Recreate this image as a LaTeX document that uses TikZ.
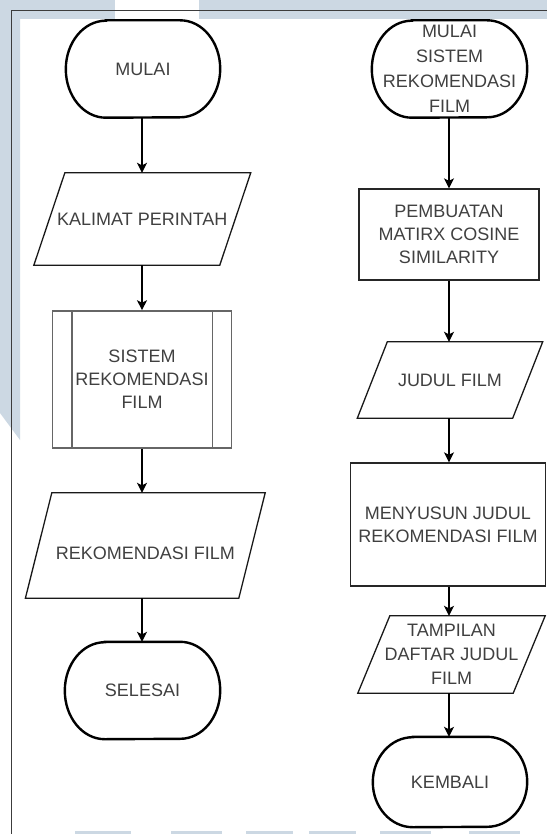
\documentclass[tikz,border=0pt]{standalone}
\usepackage{fontspec}
\setmainfont{Liberation Sans}
\usetikzlibrary{arrows.meta}
\definecolor{wm}{RGB}{204,216,227}
\definecolor{txt}{RGB}{64,64,64}
\definecolor{frm}{RGB}{60,60,60}
\newcommand\parlg[2]{\draw[pline] ([xshift=#2]#1.north west) -- ([xshift=#2]#1.north east) -- ([xshift=-#2]#1.south east) -- ([xshift=-#2]#1.south west) -- cycle;}
\newcommand\termdraw[3]{\draw[tline] ([xshift=#2]#1.north west) -- ([xshift=-#2]#1.north east) arc[start angle=90,end angle=-90,x radius=#2,y radius=#3] -- ([xshift=#2]#1.south west) arc[start angle=270,end angle=90,x radius=#2,y radius=#3] -- cycle;}
\begin{document}
\begin{tikzpicture}[x=1pt,y=-1pt,
  base/.style={inner sep=0pt, align=center, text=txt, font=\fontsize{18}{23}\selectfont},
  term/.style={base},
  tline/.style={draw=black, line width=2.4pt},
  proc/.style={base, draw=black!85, line width=1.3pt},
  sub/.style={base, draw=black!60, line width=1.6pt},
  sline/.style={draw=black!60, line width=1.6pt},
  iobox/.style={base},
  pline/.style={draw=black!90, line width=1.3pt},
  arr/.style={line width=1.4pt, -{Stealth[length=10pt,width=10pt,inset=2.5pt]}},
]
\useasboundingbox (0,0) rectangle (547,834);
\fill[white] (0,0) rectangle (547,834);
% watermark
\fill[wm] (0,0) rectangle (115,19);
\fill[wm] (199,0) rectangle (547,19);
\fill[wm] (0,0) -- (20,0) -- (20,440) -- (0,413) -- cycle;
\foreach \a/\b in {75/131,171/222,246/293,309/356,380/431,469/520}
  \fill[wm] (\a,831) rectangle (\b,834);
% frame
\draw[frm, line width=1.2pt] (11.5,834) -- (11.5,10.5) -- (547,10.5);

% left column
\node[term, minimum width=154pt, minimum height=97pt] (mulai) at (143,69) {MULAI};
\node[iobox, minimum width=185.5pt, minimum height=92pt] (kal) at (142.3,219) {KALIMAT PERINTAH};
\node[sub, minimum width=179pt, minimum height=137pt] (sis) at (142,379.5) {SISTEM\\REKOMENDASI\\FILM};
\node[iobox, minimum width=213pt, minimum height=105pt] (rek) at (145.3,545.5) {\raisebox{-14pt}[0pt][0pt]{REKOMENDASI FILM}};
\node[term, minimum width=155pt, minimum height=97pt] (sel) at (142.5,690.5) {SELESAI};

\termdraw{mulai}{40pt}{48.5pt}
\termdraw{sel}{40pt}{48.5pt}
\parlg{kal}{15.5pt}
\parlg{rek}{13.2pt}
\draw[sline] ([xshift=20pt]sis.north west) -- ([xshift=20pt]sis.south west);
\draw[sline] ([xshift=-20pt]sis.north east) -- ([xshift=-20pt]sis.south east);

% right column
\node[term, minimum width=155pt, minimum height=97pt, font=\fontsize{18}{25}\selectfont] (mulai2) at (449.5,69) {MULAI\\SISTEM\\REKOMENDASI\\FILM};
\node[proc, minimum width=180pt, minimum height=91pt] (pemb) at (449,234.5) {PEMBUATAN\\MATIRX COSINE\\SIMILARITY};
\node[iobox, minimum width=155pt, minimum height=76pt] (judul) at (450,380) {JUDUL FILM};
\node[proc, minimum width=195pt, minimum height=123pt] (meny) at (448,524.5) {MENYUSUN JUDUL\\REKOMENDASI FILM};
\node[iobox, minimum width=155pt, minimum height=77pt, font=\fontsize{18}{24}\selectfont] (tamp) at (451.5,654.5) {TAMPILAN\\DAFTAR JUDUL\\FILM};
\node[term, minimum width=154pt, minimum height=90pt] (kemb) at (450,782) {KEMBALI};

\termdraw{mulai2}{40pt}{48.5pt}
\termdraw{kemb}{40pt}{45pt}
\parlg{judul}{15pt}
\parlg{tamp}{16pt}

% connectors
\draw[arr] ([xshift=-1pt]mulai.south) -- ([xshift=-1pt]mulai.south |- kal.north);
\draw[arr] (kal.south -| sis.north) -- (sis.north);
\draw[arr] (sis.south) -- (sis.south |- rek.north);
\draw[arr] (sis.south |- rek.south) -- (sis.south |- sel.north);
\draw[arr] (mulai2.south -| pemb.north) -- (pemb.north);
\draw[arr] (pemb.south) -- (pemb.south |- judul.north);
\draw[arr] (pemb.south |- judul.south) -- (pemb.south |- meny.north);
\draw[arr] (pemb.south |- meny.south) -- (pemb.south |- tamp.north);
\draw[arr] (pemb.south |- tamp.south) -- (pemb.south |- kemb.north);
\end{tikzpicture}
\end{document}
